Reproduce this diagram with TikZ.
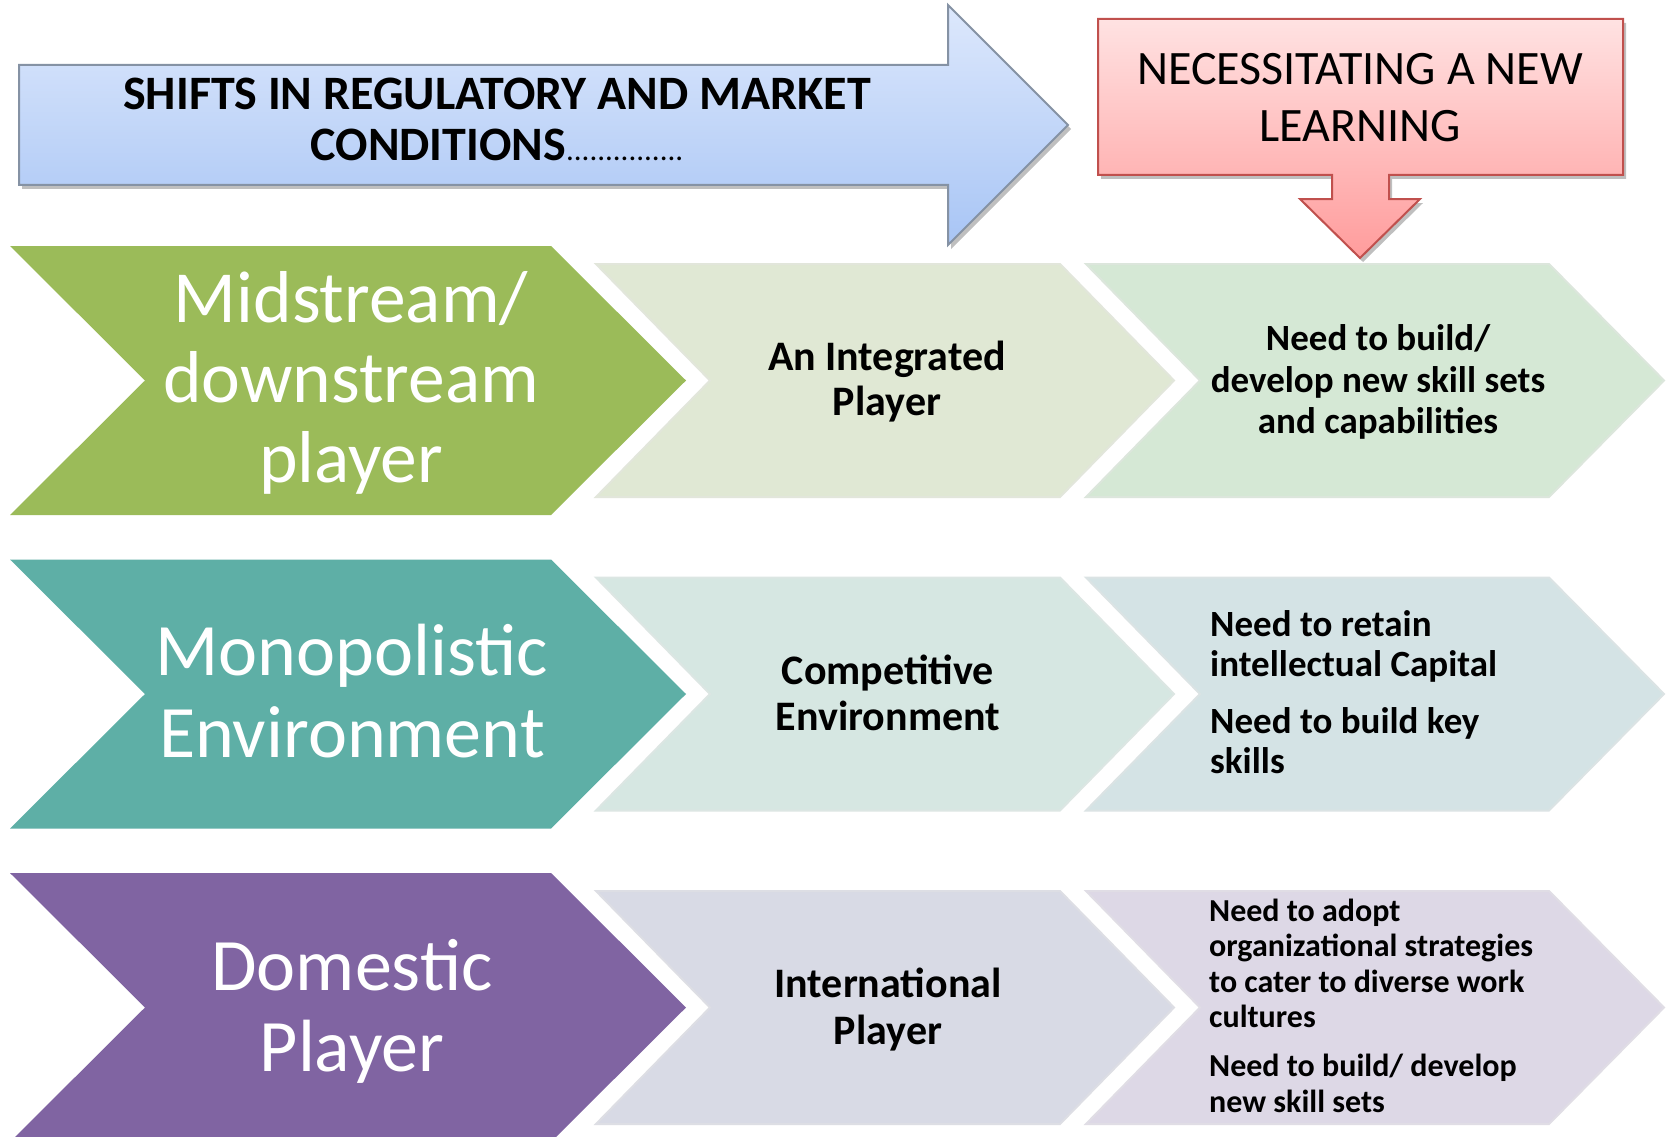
\documentclass[tikz,border=0pt]{standalone}
\usepackage{fontspec}
\setmainfont{Carlito}
\usetikzlibrary{shadows}
\definecolor{blueTop}{HTML}{DDE8FC}
\definecolor{blueBot}{HTML}{A8C5F5}
\definecolor{blueLine}{HTML}{8592A4}
\definecolor{redTop}{HTML}{FFE2E2}
\definecolor{redBot}{HTML}{FF9C9C}
\definecolor{redLine}{HTML}{C0504D}
\definecolor{greenD}{HTML}{9BBB59}
\definecolor{tealD}{HTML}{5EAFA6}
\definecolor{purpleD}{HTML}{8064A2}
\definecolor{lA}{HTML}{E0E8D4}
\definecolor{lB}{HTML}{D5E8D5}
\definecolor{lC}{HTML}{D6E7E2}
\definecolor{lD}{HTML}{D4E3E5}
\definecolor{lE}{HTML}{D8DAE5}
\definecolor{lF}{HTML}{DDD8E6}
\tikzset{
  txtW/.style={text=white, align=center, inner sep=0pt},
  txtB/.style={text=black, inner sep=0pt},
  lightchev/.style={line width=2pt, line join=miter},
  softshadow/.style={drop shadow={shadow xshift=3pt, shadow yshift=-4pt, opacity=0.25, fill=black}}
}
\begin{document}
\begin{tikzpicture}[x=1pt,y=-1pt]
\clip (0,0) rectangle (1666,1137);
\fill[white] (0,0) rectangle (1666,1137);

% top blue arrow
\path[draw=blueLine, line width=2pt, top color=blueTop, bottom color=blueBot, softshadow]
  (19,65) -- (948,65) -- (948,5) -- (1068,125) -- (948,245) -- (948,185) -- (19,185) -- cycle;
\node[txtB, align=center, font=\bfseries\fontsize{48}{51}\selectfont] (shift) at (497,119)
  {SHIFTS IN REGULATORY AND MARKET\\CONDITIONS{\mdseries\fontsize{31}{31}\selectfont ...............}};

% red box with down arrow
\path[draw=redLine, line width=2pt, top color=redTop, bottom color=redBot, softshadow]
  (1098,19) -- (1623,19) -- (1623,175) -- (1389,175) -- (1389,199) -- (1420,199) -- (1360,258)
  -- (1300,199) -- (1332,199) -- (1332,175) -- (1098,175) -- cycle;
\node[txtB, align=center, font=\fontsize{48}{57}\selectfont] (nec) at (1360,98)
  {NECESSITATING A NEW\\LEARNING};

% row 1
\fill[greenD] (10,246) -- (551,246) -- (686,380.5) -- (551,515) -- (10,515) -- (145,380.5) -- cycle;
\path[lightchev, fill=lA, draw=lA!92!black!60!white] (596,264) -- (1060,264) -- (1174,380.5) -- (1060,497) -- (596,497) -- (710,380.5) -- cycle;
\path[lightchev, fill=lB, draw=lB!92!black!60!white] (1086,264) -- (1549,264) -- (1664,380.5) -- (1549,497) -- (1086,497) -- (1200,380.5) -- cycle;
\node[txtW, font=\fontsize{73.5}{80}\selectfont] (mid) at (351,383) {Midstream/\\downstream\\player};
\node[txtB, align=center, font=\bfseries\fontsize{42}{45}\selectfont] (integ) at (887,381.5) {An Integrated\\Player};
\node[txtB, align=center, font=\bfseries\fontsize{37}{41.5}\selectfont] (need1) at (1378,382) {Need to build/\\develop new skill sets\\and capabilities};

% row 2
\fill[tealD] (10,559.5) -- (551,559.5) -- (686,694) -- (551,828.5) -- (10,828.5) -- (145,694) -- cycle;
\path[lightchev, fill=lC, draw=lC!92!black!60!white] (596,577.5) -- (1060,577.5) -- (1174,694) -- (1060,810.5) -- (596,810.5) -- (710,694) -- cycle;
\path[lightchev, fill=lD, draw=lD!92!black!60!white] (1086,577.5) -- (1549,577.5) -- (1664,694) -- (1549,810.5) -- (1086,810.5) -- (1200,694) -- cycle;
\node[txtW, font=\fontsize{74}{82}\selectfont] (mono) at (352,691.5) {Monopolistic\\Environment};
\node[txtB, align=center, font=\bfseries\fontsize{42}{46}\selectfont] (comp) at (888,692.5) {Competitive\\Environment};
\node[txtB, align=left, anchor=west, font=\bfseries\fontsize{37}{40}\selectfont] (need2) at (1210,692)
  {Need to retain\\intellectual Capital\\[17pt]Need to build key\\skills};

% row 3
\fill[purpleD] (10,873) -- (551,873) -- (686,1007.5) -- (551,1142) -- (10,1142) -- (145,1007.5) -- cycle;
\path[lightchev, fill=lE, draw=lE!92!black!60!white] (596,891) -- (1060,891) -- (1174,1007.5) -- (1060,1124) -- (596,1124) -- (710,1007.5) -- cycle;
\path[lightchev, fill=lF, draw=lF!92!black!60!white] (1086,891) -- (1549,891) -- (1664,1007.5) -- (1549,1124) -- (1086,1124) -- (1200,1007.5) -- cycle;
\node[txtW, font=\fontsize{74}{81}\selectfont] (dom) at (352,1011) {Domestic\\Player};
\node[txtB, align=center, font=\bfseries\fontsize{42}{47}\selectfont] (intl) at (888,1009.5) {International\\Player};
\node[txtB, align=left, anchor=west, font=\bfseries\fontsize{32}{35.5}\selectfont] (need3) at (1209,1005.5)
  {Need to adopt\\organizational strategies\\to cater to diverse work\\cultures\\[13.5pt]Need to build/ develop\\new skill sets};
\end{tikzpicture}
\end{document}
